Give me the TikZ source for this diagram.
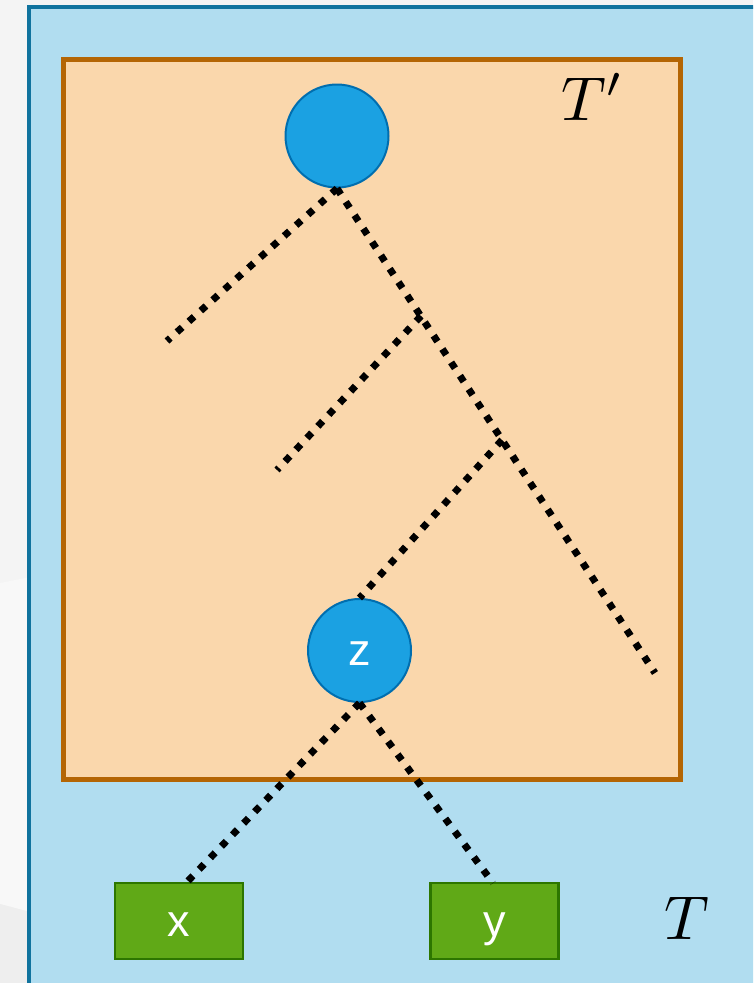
\documentclass[tikz,border=0pt]{standalone}
\usepackage{graphicx}
\usepackage{fontspec}
\setsansfont{Liberation Sans}
\definecolor{pagebg}{HTML}{F4F4F4}
\definecolor{pagelight}{HTML}{F8F8F8}
\definecolor{pagedark}{HTML}{EEEEEE}
\definecolor{outerfill}{HTML}{B1DDF0}
\definecolor{outerline}{HTML}{10739E}
\definecolor{innerfill}{HTML}{FAD7AC}
\definecolor{innerline}{HTML}{B46504}
\definecolor{nodefill}{HTML}{1BA1E2}
\definecolor{nodeline}{HTML}{006EAF}
\definecolor{leaffill}{HTML}{60A917}
\definecolor{leafline}{HTML}{2D7600}
\newcommand{\lowtext}[1]{\raisebox{-15pt}[0pt][0pt]{#1}}
\tikzset{
  treenode/.style={circle, fill=nodefill, draw=nodeline, line width=2pt, minimum size=103pt, inner sep=0pt,
    text=white, font=\sffamily\fontsize{45}{45}\selectfont},
  leafbox/.style={rectangle, fill=leaffill, draw=leafline, line width=2.5pt, minimum width=128pt, minimum height=76pt, inner sep=0pt,
    text=white, font=\sffamily\fontsize{45}{45}\selectfont},
  dotline/.style={line width=7pt, dash pattern=on 7pt off 9pt, black},
  treelabel/.style={inner sep=0pt}
}
\begin{document}
\begin{tikzpicture}[x=1pt,y=-1pt]
\useasboundingbox (0,0) rectangle (753,983);
\clip (0,0) rectangle (753,983);
% page background
\fill[pagebg] (0,0) rectangle (753,983);
\fill[pagelight] (0,583) -- (30,577) -- (30,912) -- (0,904) -- cycle;
\fill[pagedark] (0,904) -- (30,912) -- (30,983) -- (0,983) -- cycle;
% outer tree T
\draw[fill=outerfill, draw=outerline, line width=4pt] (29,7) rectangle (780,1010);
% inner subtree T'
\draw[fill=innerfill, draw=innerline, line width=5pt] (63.5,59) rectangle (680.5,779);
% nodes
\node[treenode] (root) at (337,136) {};
\node[treenode] (z) at (359.5,650.5) {\lowtext{z}};
\node[leafbox] (x) at (179,921) {\lowtext{x}};
\node[leafbox] (y) at (494.5,921) {\lowtext{y}};
\node[treelabel] (tp) at (593,97) {\scalebox{6.2}{$T'$}};
\node[treelabel] (t) at (687,918) {\scalebox{6.2}{$T$}};
% free ends and junctions
\coordinate (rootb) at (root.south);
\coordinate (leftend) at (167,341);
\coordinate (mainend) at (655,673);
\coordinate (j1) at (421,316);
\coordinate (j1end) at (277,470);
\coordinate (j2) at (502,440);
\coordinate (xtop) at (186,883);
\coordinate (ytop) at (493,883);
% connectors
\draw[dotline] (rootb) -- (leftend);
\draw[dotline] (rootb) -- (mainend);
\draw[dotline] (j1) -- (j1end);
\draw[dotline] (j2) -- (z.north);
\draw[dotline] (z.south) -- (xtop);
\draw[dotline] (z.south) -- (ytop);
\end{tikzpicture}
\end{document}
